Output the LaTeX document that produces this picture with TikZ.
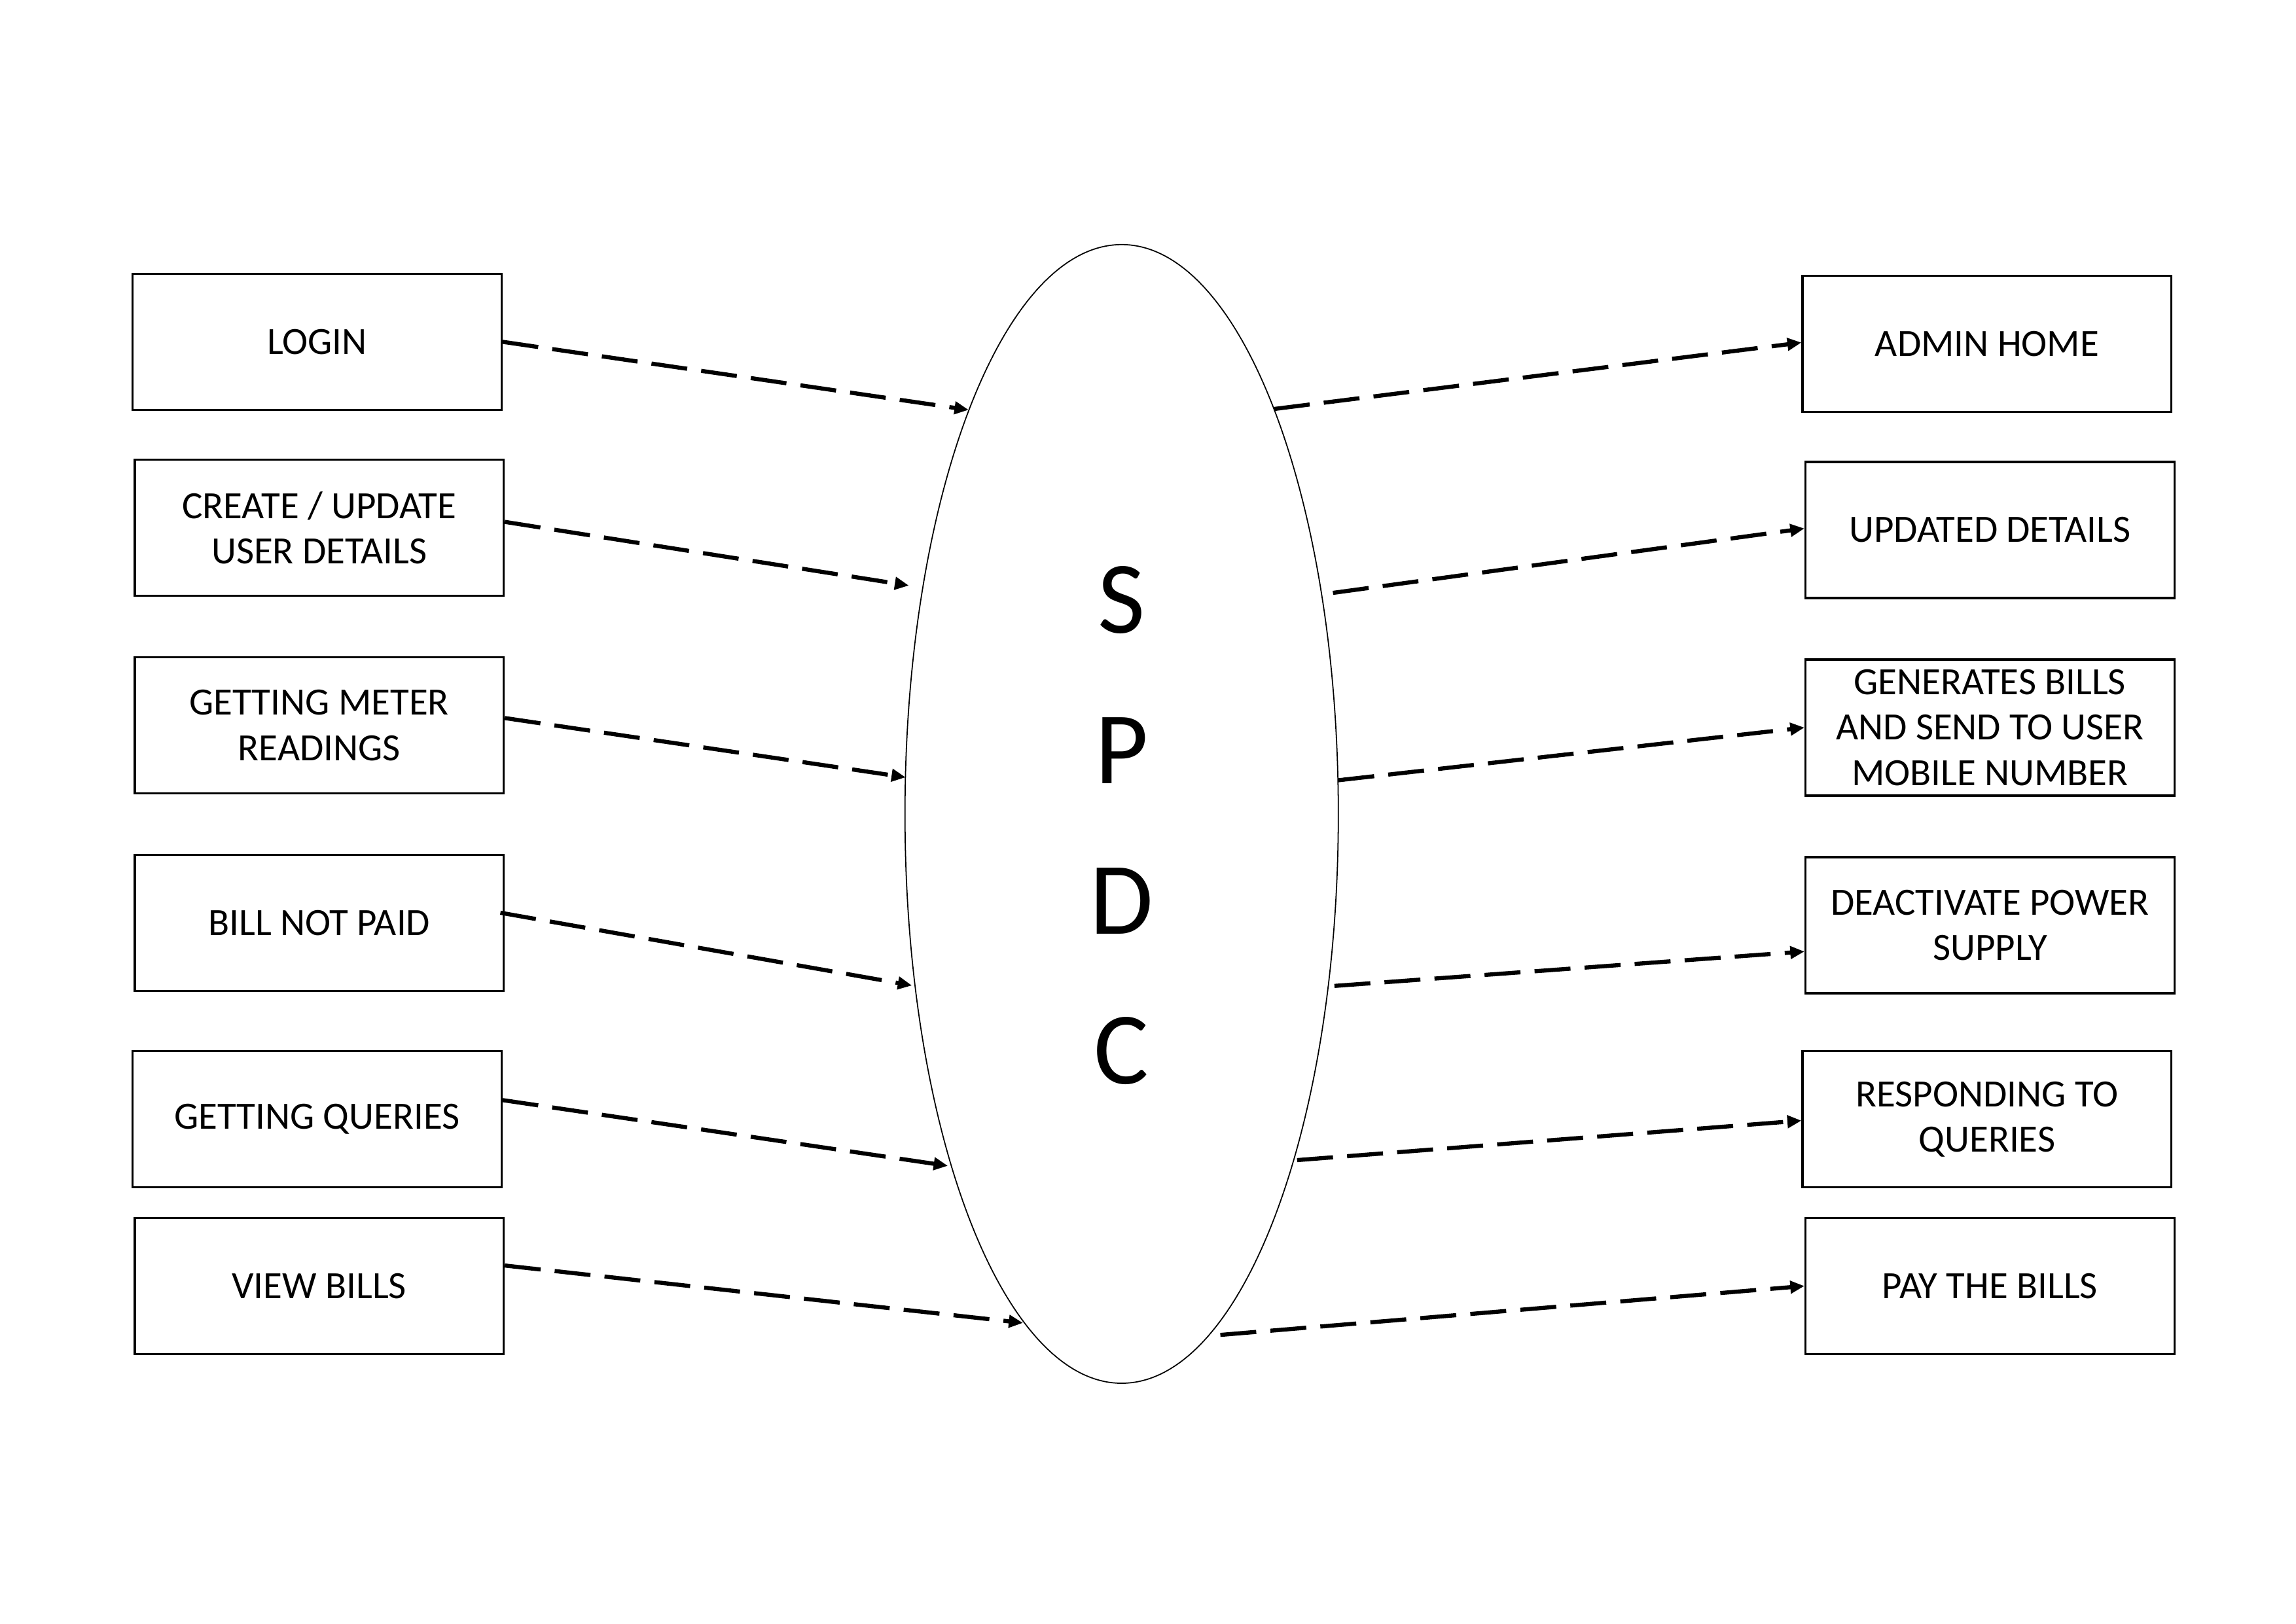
\documentclass[tikz,border=0pt]{standalone}
\usepackage{fontspec}
\setmainfont{Carlito}
\usetikzlibrary{arrows.meta,shapes.geometric}

\begin{document}
\begin{tikzpicture}[x=.02cm,y=-.02cm,>={Triangle[length=5.5pt,width=4.8pt]},
 font=\fontsize{15}{17.6}\selectfont,
 box/.style={draw,line width=.85pt,minimum width=5.04cm,minimum height=1.86cm,inner sep=0pt,align=center},
 flow/.style={->,line width=1.6pt,dash pattern=on 14pt off 5.5pt}]
 \useasboundingbox (0,0) rectangle (1568,1109);
 \node[draw,ellipse,line width=.45pt,minimum width=5.92cm,minimum height=15.56cm,inner sep=0pt] (spdc) at(766,556){};
 \node[align=center,font=\fontsize{40}{58.4}\selectfont] (spdctext) at(766,564){S\\P\\D\\C};
 % inputs
 \foreach \n/\x/\y/\t in {1/216.5/233.5/{LOGIN},2/218/360.5/{CREATE / UPDATE\\USER DETAILS},
  3/218/495.5/{GETTING METER\\READINGS},4/218/630.5/{BILL NOT PAID},
  5/216.5/764.5/{GETTING QUERIES},6/218/878.5/{VIEW BILLS}}{
  \node[box] (in\n) at(\x,\y){\t};}
 % outputs
 \foreach \n/\x/\y/\t in {1/1357/235/{ADMIN HOME},2/1359/362/{UPDATED DETAILS},
  3/1359/497/{GENERATES BILLS\\AND SEND TO USER\\MOBILE NUMBER},4/1359/632/{DEACTIVATE POWER\\SUPPLY},
  5/1357/764.5/{RESPONDING TO\\QUERIES},6/1359/878.5/{PAY THE BILLS}}{
  \node[box] (out\n) at(\x,\y){\t};}
 % flows into SPDC
 \foreach \n/\sx/\sy/\ex/\ey in {1/0/0/-104.5/-276,2/0/-4/-145.3/-156,3/0/-5/-147.5/-25,
  4/-3/-7/-143.2/117.2,5/0/-13/-118.7/240.4,6/0/-14/-67.4/347.7}{
  \draw[flow] ([shift={(\sx,\sy)}]in\n.east)--([shift={(\ex,\ey)}]spdc.center);}
 % flows out of SPDC
 \foreach \n/\sx/\sy/\ey in {1/104/-276.6/-1,2/144.3/-151/-1,3/148/-23/0,
  4/145.3/117.5/18,5/119.8/236.5/1,6/67.4/355.9/0}{
  \draw[flow] ([shift={(\sx,\sy)}]spdc.center)--([shift={(0,\ey)}]out\n.west);}
\end{tikzpicture}
\end{document}
